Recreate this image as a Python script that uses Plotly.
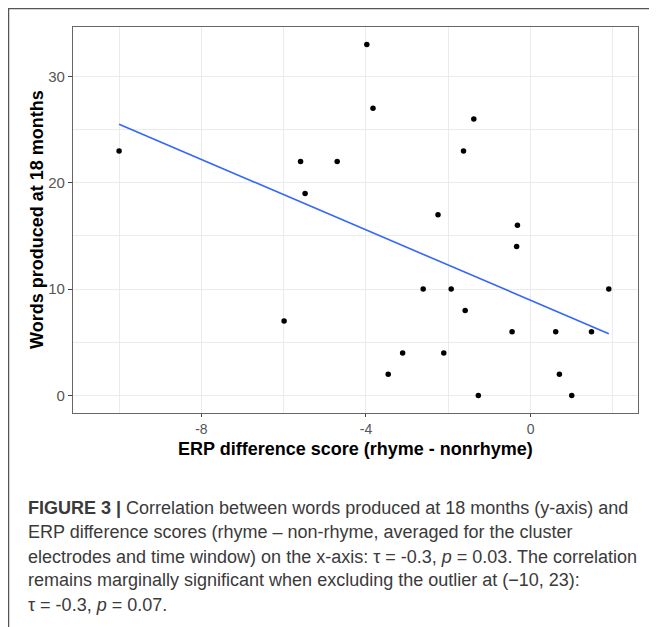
import numpy as np
import plotly.graph_objects as go

# ERP difference score (x) and words produced at 18 months (y)
erp_diff = [-10.0, -5.59, -5.48, -3.98, -3.83, -1.38, -1.63, -4.70, -2.25, -0.32,
            -0.34, -2.61, -1.93, 1.90, -1.59, -0.45, 0.61, 1.48, -3.11, -2.11,
            -3.46, 0.70, -1.27, 1.00, -5.99]
words_18m = [23, 22, 19, 33, 27, 26, 23, 22, 17, 16,
             14, 10, 10, 10, 8, 6, 6, 6, 4, 4,
             2, 2, 0, 0, 7]

x_tickvals = [-8, -4, 0]
y_tickvals = [0, 10, 20, 30]

x_title = "ERP difference score (rhyme - nonrhyme)"
y_title = "Words produced at 18 months"

caption_lines = [
    "<b>FIGURE 3 |</b> Correlation between words produced at 18 months (y-axis) and",
    "ERP difference scores (rhyme \u2013 non-rhyme, averaged for the cluster",
    "electrodes and time window) on the x-axis: \u03c4 = -0.3, <i>p</i> = 0.03. The correlation",
    "remains marginally significant when excluding the outlier at (\u221210, 23):",
    "\u03c4 = -0.3, <i>p</i> = 0.07.",
]

# linear fit (geom_smooth method = "lm")
xa = np.array(erp_diff)
ya = np.array(words_18m)
slope, intercept = np.polyfit(xa, ya, 1)
fit_x = np.linspace(xa.min(), xa.max(), 60)
fit_y = slope * fit_x + intercept

# page has an 8px body margin; work in page coordinates and shift
OFF = 8
W, H = 657 - OFF, 627 - OFF
L, R, T, B = 73 - OFF, 638 - OFF, 27 - OFF, 413 - OFF
pw, ph = R - L, B - T


def px(xp):
    return (xp - OFF - L) / pw


def py(yp):
    return (B - (yp - OFF)) / ph


fig = go.Figure()
fig.add_trace(go.Scatter(x=fit_x, y=fit_y, mode="lines",
                         line=dict(color="#3366FF", width=1.6),
                         hoverinfo="skip", showlegend=False))
fig.add_trace(go.Scatter(x=erp_diff, y=words_18m, mode="markers",
                         marker=dict(color="black", size=5.5),
                         showlegend=False))

font = "Liberation Sans, Arial, Helvetica, sans-serif"
grid = "#EBEBEB"
fig.update_layout(
    width=W, height=H,
    margin=dict(l=L, r=W - R, t=T, b=H - B),
    paper_bgcolor="white", plot_bgcolor="white",
    font=dict(family=font),
    showlegend=False,
)
fig.update_xaxes(
    range=[-11.12, 2.61], tickvals=x_tickvals, ticktext=[str(v) for v in x_tickvals],
    showgrid=True, gridcolor=grid, gridwidth=1,
    minor=dict(tickvals=[-10, -6, -2, 2], showgrid=True, gridcolor=grid, gridwidth=1, ticks=""),
    zeroline=False, showline=True, linecolor="#666", linewidth=1.3, mirror=True,
    ticks="outside", ticklen=3, tickcolor="#444", tickwidth=1,
    tickfont=dict(size=14, color="#555", family=font),
)
fig.update_yaxes(
    range=[-1.65, 34.65], tickvals=y_tickvals, ticktext=[str(v) for v in y_tickvals],
    showgrid=True, gridcolor=grid, gridwidth=1,
    minor=dict(tickvals=[5, 15, 25], showgrid=True, gridcolor=grid, gridwidth=1, ticks=""),
    zeroline=False, showline=True, linecolor="#666", linewidth=1.3, mirror=True,
    ticks="outside", ticklen=4, tickcolor="#444", tickwidth=1,
    tickfont=dict(size=15, color="#555", family=font),
)

# axis titles
fig.add_annotation(text=f"<b>{x_title}</b>", xref="paper", yref="paper",
                   x=0.5, y=py(449), xanchor="center", yanchor="middle",
                   showarrow=False, font=dict(size=18, color="black", family=font))
fig.add_annotation(text=f"<b>{y_title}</b>", xref="paper", yref="paper",
                   x=px(37), y=0.5, xanchor="center", yanchor="middle", textangle=-90,
                   showarrow=False, font=dict(size=18, color="black", family=font))

# caption
caption_y = [508, 532, 557, 580, 605]
for line, yp in zip(caption_lines, caption_y):
    fig.add_annotation(text=line, xref="paper", yref="paper",
                       x=px(26), y=py(yp), xanchor="left", yanchor="middle",
                       showarrow=False, align="left",
                       font=dict(size=18, color="#3a3a3a", family=font))

# outer frame (top and left edges visible)
fig.add_shape(type="line", xref="paper", yref="paper",
              x0=px(8), x1=px(670), y0=py(8.5), y1=py(8.5),
              line=dict(color="#555", width=1.5))
fig.add_shape(type="line", xref="paper", yref="paper",
              x0=px(8.5), x1=px(8.5), y0=py(8), y1=py(640),
              line=dict(color="#555", width=1.5))

fig.write_html("out.html")
